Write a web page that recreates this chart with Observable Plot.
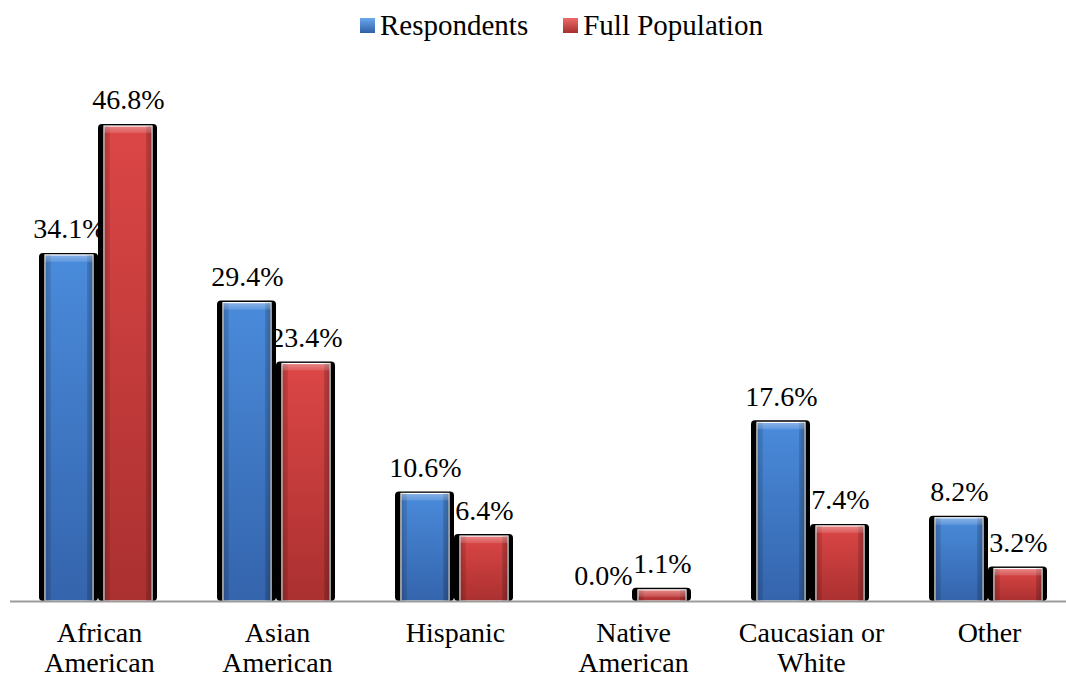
<!DOCTYPE html>
<html>
<head>
<meta charset="utf-8">
<script src="https://cdn.jsdelivr.net/npm/d3@7"></script>
<script src="https://cdn.jsdelivr.net/npm/@observablehq/plot@0.6"></script>
<style>
  body { margin: 0; background: #fff; font-family: "Liberation Serif", "Times New Roman", serif; }
  #wrap { position: relative; width: 1066px; height: 678px; overflow: hidden; }
  #legend { position: absolute; left: 360px; top: 9px; display: flex; align-items: center; font-size: 29px; color: #000; white-space: nowrap; }
  #legend .item { display: flex; align-items: center; margin-right: 35px; }
  #legend .sw { width: 15px; height: 15px; margin-right: 5px; box-sizing: border-box; }
  #chart { position: absolute; left: 0; top: 50px; }
</style>
</head>
<body>
<!-- shared paint servers for the bevelled bars -->
<svg width="0" height="0" style="position:absolute">
  <defs>
    <linearGradient id="blueBody" x1="0" y1="0" x2="0" y2="1">
      <stop offset="0" stop-color="#4a8bdb"/>
      <stop offset="1" stop-color="#3464ac"/>
    </linearGradient>
    <linearGradient id="redBody" x1="0" y1="0" x2="0" y2="1">
      <stop offset="0" stop-color="#dc4646"/>
      <stop offset="1" stop-color="#ab3030"/>
    </linearGradient>
    <linearGradient id="sideShade" x1="0" y1="0" x2="1" y2="0">
      <stop offset="0" stop-color="#000" stop-opacity="0.22"/>
      <stop offset="0.12" stop-color="#000" stop-opacity="0.10"/>
      <stop offset="0.13" stop-color="#000" stop-opacity="0"/>
      <stop offset="0.87" stop-color="#000" stop-opacity="0"/>
      <stop offset="0.88" stop-color="#000" stop-opacity="0.14"/>
      <stop offset="1" stop-color="#000" stop-opacity="0.28"/>
    </linearGradient>
    <linearGradient id="capShade" x1="0" y1="0" x2="0" y2="1">
      <stop offset="0" stop-color="#fff" stop-opacity="0.35"/>
      <stop offset="1" stop-color="#fff" stop-opacity="0.12"/>
    </linearGradient>
  </defs>
</svg>
<div id="wrap">
  <div id="legend"></div>
  <div id="chart"></div>
</div>
<script>
// Ethnic composition: survey respondents vs. full population (percent)
const categories = ["African\nAmerican", "Asian\nAmerican", "Hispanic", "Native\nAmerican", "Caucasian or\nWhite", "Other"];
const seriesNames = ["Respondents", "Full Population"];
const respondents = [34.1, 29.4, 10.6, 0.0, 17.6, 8.2];
const fullPopulation = [46.8, 23.4, 6.4, 1.1, 7.4, 3.2];

const serifStack = "'Liberation Serif', 'Times New Roman', serif";
const seriesFill = {"Respondents": "url(#blueBody)", "Full Population": "url(#redBody)"};
const swatchCss = {
  "Respondents": "linear-gradient(#6aa8ee, #2f5fa6)",
  "Full Population": "linear-gradient(#ee6a6a, #a62f2f)"
};

const rows = categories.flatMap((category, i) => [
  {category, series: seriesNames[0], value: respondents[i]},
  {category, series: seriesNames[1], value: fullPopulation[i]}
]);
const fmt = v => v.toFixed(1) + "%";
const pos = {fx: "category", x: "series"};

const chart = Plot.plot({
  width: 1066,
  height: 628,
  marginLeft: 0,
  marginRight: 0,
  marginTop: 43.5,
  marginBottom: 77,
  style: {fontFamily: serifStack, fontSize: "28px", color: "#000", background: "transparent", overflow: "visible"},
  fx: {domain: categories, range: [8.75, 1079.75], padding: 0, label: null},
  x: {domain: seriesNames, paddingInner: 0.183, paddingOuter: 0.579, axis: null},
  y: {domain: [0, 50], axis: null},
  marks: [
    // value labels sit beneath the bars, as the bars overlap some of them
    Plot.text(rows, {...pos, y: "value", text: d => fmt(d.value), lineAnchor: "bottom", dy: -17, fontSize: 28, fill: "#000"}),
    // dark drop shadow behind each bar
    Plot.barY(rows.filter(d => d.value > 0), {...pos, y: "value", fill: "#000", insetLeft: -6, insetRight: -5, insetTop: -2, rx: 4}),
    // bar bodies
    ...seriesNames.map(s => Plot.barY(rows.filter(d => d.series === s), {...pos, y: "value", fill: seriesFill[s], stroke: "#fff", strokeWidth: 1.2})),
    // bevel: darker sides and a lighter top edge
    Plot.barY(rows.filter(d => d.value > 0), {...pos, y: "value", fill: "url(#sideShade)"}),
    Plot.barY(rows.filter(d => d.value > 0), {...pos, y1: "value", y2: "value", insetBottom: -7, fill: "url(#capShade)"}),
    Plot.ruleY([0], {stroke: "#9c9c9c", strokeWidth: 2}),
    Plot.axisFx({anchor: "bottom", tickSize: 0, tickPadding: 20, lineHeight: 1.05, fontSize: 28, fill: "#000", label: null})
  ]
});
document.getElementById("chart").appendChild(chart);

// legend
const legend = document.getElementById("legend");
for (const s of seriesNames) {
  const item = document.createElement("div");
  item.className = "item";
  const sw = document.createElement("span");
  sw.className = "sw";
  sw.style.background = swatchCss[s];
  const label = document.createElement("span");
  label.textContent = s;
  item.append(sw, label);
  legend.append(item);
}
</script>
</body>
</html>
